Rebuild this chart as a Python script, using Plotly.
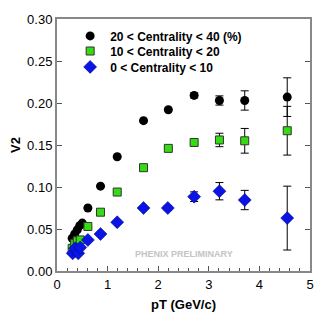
import plotly.graph_objects as go

# 20 < Centrality < 40
pt_a = [0.30, 0.35, 0.40, 0.45, 0.50, 0.61, 0.86, 1.19, 1.71, 2.20, 2.71, 3.21, 3.71, 4.55]
v2_a = [0.039, 0.044, 0.049, 0.054, 0.057, 0.075, 0.101, 0.136, 0.179, 0.192, 0.209, 0.203, 0.203, 0.207]
err_a = [0, 0, 0, 0, 0, 0, 0, 0, 0, 0, 0.003, 0.0055, 0.0115, 0.023]

# 10 < Centrality < 20
pt_b = [0.30, 0.35, 0.40, 0.46, 0.61, 0.86, 1.19, 1.71, 2.20, 2.71, 3.21, 3.71, 4.55]
v2_b = [0.027, 0.033, 0.036, 0.037, 0.053, 0.070, 0.094, 0.123, 0.146, 0.153, 0.156, 0.155, 0.167]
err_b = [0, 0, 0, 0, 0, 0, 0, 0, 0, 0.003, 0.008, 0.0147, 0.029]

# 0 < Centrality < 10
pt_c = [0.31, 0.36, 0.42, 0.46, 0.61, 0.86, 1.19, 1.71, 2.19, 2.71, 3.21, 3.71, 4.55]
v2_c = [0.021, 0.027, 0.021, 0.028, 0.037, 0.044, 0.058, 0.075, 0.075, 0.0885, 0.095, 0.0845, 0.063]
err_c = [0, 0, 0, 0, 0, 0, 0, 0, 0.003, 0.0057, 0.0103, 0.0115, 0.038]

names = ["20 < Centrality < 40 (%)", "10 < Centrality < 20", "0 < Centrality < 10"]

FONT = "Liberation Sans"
fig = go.Figure()
eb = dict(type="data", visible=True, color="black", thickness=1, width=4)
fig.add_trace(go.Scatter(x=pt_a, y=v2_a, mode="markers", name="<b>" + names[0] + "</b>",
                         legend="legend",
                         error_y=dict(array=err_a, **eb),
                         marker=dict(symbol="circle", size=9, color="black")))
fig.add_trace(go.Scatter(x=pt_b, y=v2_b, mode="markers", name="<b>" + names[1] + "</b>",
                         legend="legend2",
                         error_y=dict(array=err_b, **eb),
                         marker=dict(symbol="square", size=8, color="#33dd11",
                                     line=dict(color="#333333", width=1))))
fig.add_trace(go.Scatter(x=pt_c, y=v2_c, mode="markers", name="<b>" + names[2] + "</b>",
                         legend="legend3",
                         error_y=dict(array=err_c, **eb),
                         marker=dict(symbol="diamond", size=10, color="#0a14e6",
                                     line=dict(color="#000066", width=0.5))))

fig.add_annotation(x=2.5, y=0.020, text="<b>PHENIX PRELIMINARY</b>", showarrow=False,
                   font=dict(size=9, color="#c4c4c4", family=FONT))

def leg(y):
    return dict(x=0.052, y=y, xanchor="left", yanchor="middle",
                bgcolor="rgba(0,0,0,0)", font=dict(size=12, family=FONT, color="black"),
                itemwidth=30)

fig.update_layout(
    width=322, height=308,
    margin=dict(l=49, r=20, t=11, b=45),
    paper_bgcolor="white", plot_bgcolor="white",
    font=dict(family=FONT, size=13, color="black"),
    showlegend=True,
    legend=leg(0.933), legend2=leg(0.873), legend3=leg(0.810),
    xaxis=dict(range=[0, 5], tickvals=[0, 1, 2, 3, 4, 5], automargin=False,
               ticks="inside", ticklen=5, tickcolor="#555555",
               minor=dict(dtick=0.2, ticks="inside", ticklen=3, tickcolor="#555555"),
               showline=True, linecolor="#888888", linewidth=2, mirror=True,
               showgrid=False, zeroline=False,
               tickprefix="<b>", ticksuffix="</b>",
               tickfont=dict(size=13, family=FONT),
               title=dict(text="<b>pT (GeV/c)</b>", font=dict(size=13), standoff=9)),
    yaxis=dict(range=[0, 0.30], tickvals=[0, 0.05, 0.10, 0.15, 0.20, 0.25, 0.30],
               tickformat=".2f", automargin=False,
               ticks="inside", ticklen=5, tickcolor="#555555",
               showline=True, linecolor="#888888", linewidth=2, mirror="ticks",
               showgrid=False, zeroline=False,
               tickprefix="<b>", ticksuffix="</b>",
               tickfont=dict(size=13, family=FONT),
               title=dict(text="<b>V2</b>", font=dict(size=13), standoff=15)),
)

fig.write_html("out.html")
